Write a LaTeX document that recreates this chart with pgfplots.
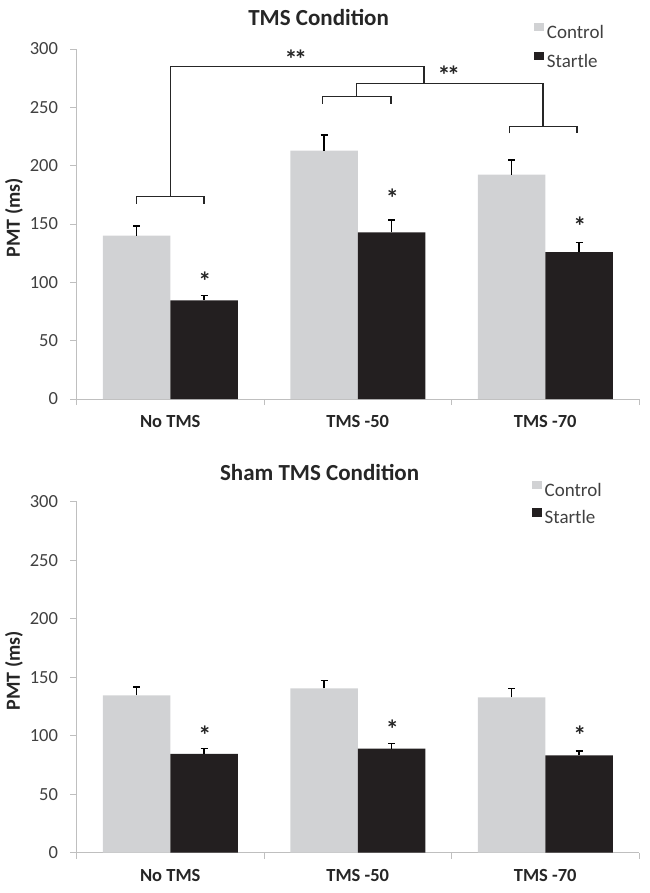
\documentclass[border=0pt]{standalone}
\usepackage{fontspec}
\setmainfont{Carlito}
\usepackage{pgfplots}
\pgfplotsset{compat=1.18}
\definecolor{ctrl}{HTML}{D1D2D4}
\definecolor{star}{HTML}{231F20}
\definecolor{axgray}{HTML}{BFBFBF}
\definecolor{ticktext}{HTML}{404040}
\definecolor{lbl}{HTML}{262626}

\tikzset{ast/.style={font=\fontsize{26}{28}\selectfont\bfseries, text=lbl, inner sep=0pt}}

\pgfplotsset{
 mystyle/.style={
  scale only axis, width=562.5pt, anchor=south west,
  xmin=-0.5, xmax=2.5, ymin=0, ymax=300,
  ybar=0pt, bar width=67.5pt,
  axis x line*=bottom, axis y line*=left,
  axis line style={-, draw=axgray, line width=1pt},
  tick align=outside, major tick length=6pt,
  tick style={draw=axgray, line width=1pt},
  xtick={-0.5,0.5,1.5,2.5},
  x tick label as interval,
  xticklabels={No TMS, TMS -50, TMS -70},
  xticklabel style={font=\fontsize{18.5}{20}\selectfont\bfseries, text=lbl, yshift=-7pt},
  ytick={0,50,...,300},
  yticklabel style={font=\fontsize{18.5}{20}\selectfont, text=ticktext, xshift=-9pt},
  /pgf/number format/assume math mode=true,
  ylabel={PMT (ms)},
  every axis y label/.style={at={(axis description cs:0,0.5)}, xshift=-56.5pt, yshift=6.5pt, rotate=90, anchor=base, font=\fontsize{20}{22}\selectfont\bfseries, text=lbl},
  legend image code/.code={\fill[#1] (0pt,2.5pt) rectangle (10pt,11pt);},
  legend style={draw=none, fill=none, inner sep=0pt, font=\fontsize{19}{21}\selectfont, text=ticktext,
    nodes={inner ysep=0pt, inner xsep=2.5pt, text height=12.5pt, text depth=3.5pt}},
  legend cell align=left,
  clip=false,
 },
 ctrlbar/.style={fill=ctrl, draw=none, error bars/.cd, y dir=plus, y explicit,
   error bar style={line width=1.2pt, draw=black},
   error mark options={rotate=90, mark size=3.5pt, line width=1.2pt, draw=black}},
 starbar/.style={fill=star, draw=none, error bars/.cd, y dir=plus, y explicit,
   error bar style={line width=1.2pt, draw=black},
   error mark options={rotate=90, mark size=3.5pt, line width=1.2pt, draw=black}},
}

\begin{document}
\begin{tikzpicture}
\path[use as bounding box] (0,0) rectangle (649pt,-893pt);

% ---------- Top panel ----------
\begin{axis}[mystyle, at={(76.5pt,-399pt)}, height=350pt,
  title={TMS Condition},
  every axis title/.style={at={(axis description cs:0.4304,1)}, anchor=base, yshift=24pt, font=\fontsize{23}{25}\selectfont\bfseries, text=lbl},
  legend style={at={(rel axis cs:0.8137,1.0749)}, anchor=north west, row sep=10pt},
]
\addplot[ctrlbar] coordinates {(0,140) +- (0,8.3) (1,212.8) +- (0,13.5) (2,192.3) +- (0,12.6)};
\addplot[starbar] coordinates {(0,84.6) +- (0,3.9) (1,142.9) +- (0,10.5) (2,126) +- (0,8)};
\legend{Control, Startle}
\begin{scope}[line width=1.4pt, draw=lbl]
\draw (-0.18,167.4) -- (-0.18,173.4) -- (0.18,173.4) -- (0.18,167.4);
\draw (0,173.4) -- (0,284.8) -- (1.354,284.8) -- (1.354,270.6);
\draw (0.994,270.6) -- (1.987,270.6);
\draw (0.994,270.6) -- (0.994,259.4);
\draw (0.813,252.9) -- (0.813,259.4) -- (1.177,259.4) -- (1.177,252.9);
\draw (1.987,270.6) -- (1.987,233.4);
\draw (1.81,227.7) -- (1.81,233.4) -- (2.17,233.4) -- (2.17,227.7);
\end{scope}
\node[ast] at (0.184,101) {*};
\node[ast] at (1.184,172) {*};
\node[ast] at (2.184,147.7) {*};
\node[ast] at (0.67,291.4) {*\kern-3.5pt*};
\node[ast] at (1.486,277.7) {*\kern-3.5pt*};
\end{axis}

% ---------- Bottom panel ----------
\begin{axis}[mystyle, at={(76.5pt,-852.7pt)}, height=351pt,
  title={Sham TMS Condition},
  every axis title/.style={at={(axis description cs:0.4322,1)}, anchor=base, yshift=21.7pt, font=\fontsize{23}{25}\selectfont\bfseries, text=lbl},
  legend style={at={(rel axis cs:0.8097,1.0604)}, anchor=north west, row sep=8.3pt},
]
\addplot[ctrlbar] coordinates {(0,134.5) +- (0,7.1) (1,140.5) +- (0,6.5) (2,132.8) +- (0,7.4)};
\addplot[starbar] coordinates {(0,84.4) +- (0,4.5) (1,89) +- (0,4.2) (2,83.2) +- (0,3.8)};
\legend{Control, Startle}
\node[ast] at (0.184,100.6) {*};
\node[ast] at (1.184,105.5) {*};
\node[ast] at (2.184,100.6) {*};
\end{axis}
\end{tikzpicture}
\end{document}
